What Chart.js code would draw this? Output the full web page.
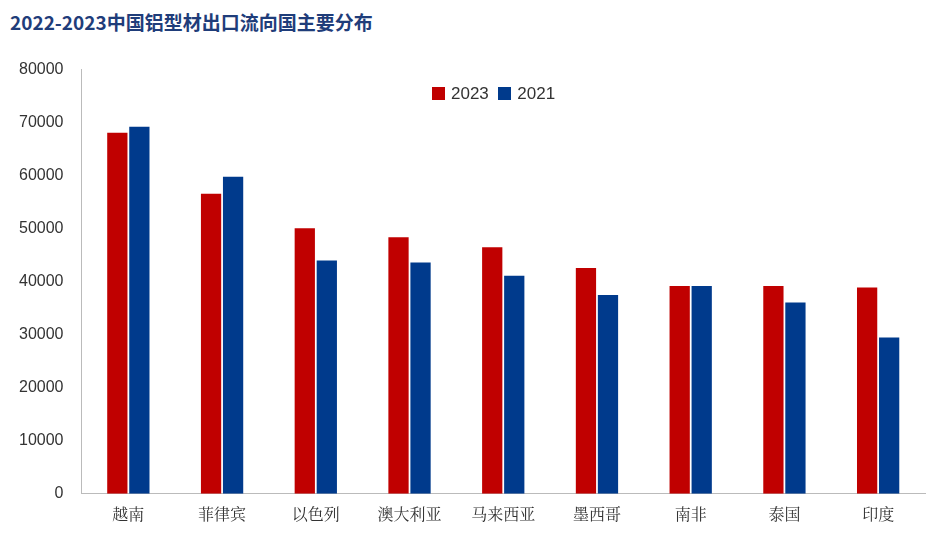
<!DOCTYPE html>
<html>
<head>
<meta charset="utf-8">
<script src="https://cdn.jsdelivr.net/npm/chart.js@4.4.0/dist/chart.umd.min.js"></script>
<style>
  body { margin: 0; background: #fff; }
  #wrap { position: relative; width: 939px; height: 542px; }
  #title { position: absolute; left: 10px; top: 8px; font: bold 19px "Noto Sans CJK SC", sans-serif; color: #1F3D7A; }
  #legend { position: absolute; left: 432px; top: 84px; font: 17px "Liberation Sans", Arial, sans-serif; color: #333; }
  #legend span.sw { display: inline-block; width: 13px; height: 13px; margin-right: 6px; vertical-align: -1px; }
  #chart-box { position: absolute; left: 0; top: 50px; width: 939px; height: 492px; }
</style>
</head>
<body>
<div id="wrap">
  <div id="title">2022-2023中国铝型材出口流向国主要分布</div>
  <div id="chart-box"><canvas id="chart"></canvas></div>
  <div id="legend"><span class="sw" style="background:#C00000"></span>2023&nbsp;&nbsp;<span class="sw" style="background:#003A8C"></span>2021</div>
</div>
<script>
// Categories and series
const categories = ['越南', '菲律宾', '以色列', '澳大利亚', '马来西亚', '墨西哥', '南非', '泰国', '印度'];
const values2023 = [68100, 56600, 50100, 48400, 46500, 42600, 39200, 39200, 38900];
const values2021 = [69200, 59800, 44000, 43600, 41100, 37500, 39200, 36100, 29500];

const ctx = document.getElementById('chart').getContext('2d');
new Chart(ctx, {
    type: 'bar',
    data: {
        labels: categories,
        datasets: [
            { label: '2023', data: values2023, backgroundColor: '#C00000', categoryPercentage: 0.47, barPercentage: 0.92 },
            { label: '2021', data: values2021, backgroundColor: '#003A8C', categoryPercentage: 0.47, barPercentage: 0.92 }
        ]
    },
    options: {
        responsive: true,
        maintainAspectRatio: false,
        animation: false,
        layout: { padding: { top: 16, right: 14, left: 9, bottom: 15 } },
        plugins: { legend: { display: false }, tooltip: { enabled: false } },
        scales: {
            x: {
                grid: { display: false },
                border: { color: '#bbb' },
                ticks: { color: '#333', font: { family: '"Noto Serif CJK SC", "Noto Sans CJK SC", serif', size: 16 } }
            },
            y: {
                min: 0, max: 80000,
                ticks: { stepSize: 10000, color: '#333', padding: 10, font: { family: '"Liberation Sans", Arial', size: 16 },
                    callback: (v) => String(v) },
                grid: { display: false },
                border: { color: '#bbb' }
            }
        }
    }
});
</script>
</body>
</html>
